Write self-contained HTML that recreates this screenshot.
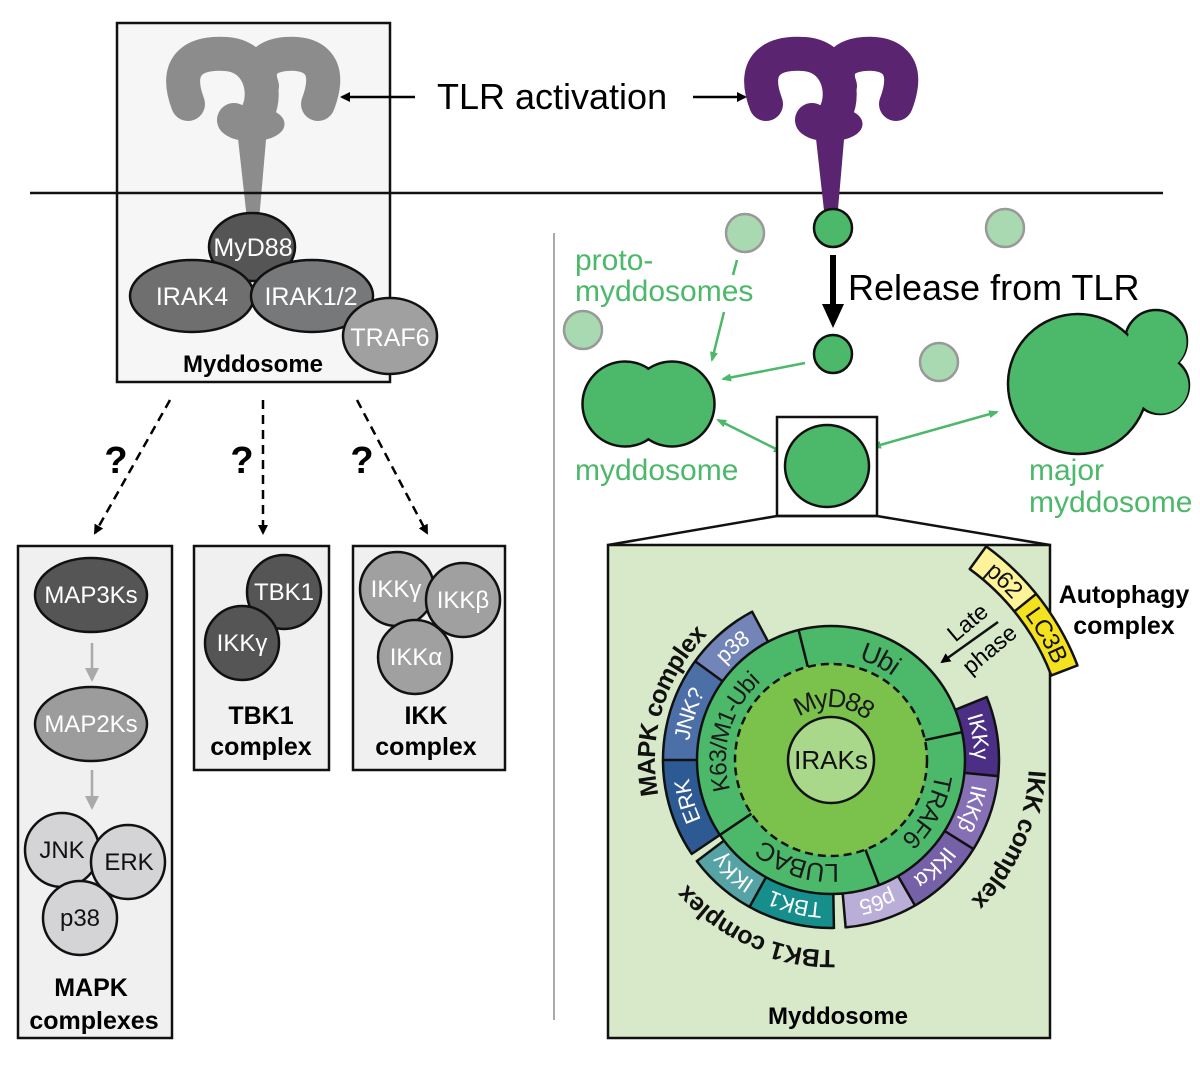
<!DOCTYPE html>
<html><head><meta charset="utf-8"><style>
html,body{margin:0;padding:0;background:#fff;overflow:hidden;width:1200px;height:1067px}
svg{display:block}
text{font-family:"Liberation Sans",Arial,sans-serif}
</style></head><body>
<svg width="1200" height="1067" viewBox="0 0 1200 1067" xmlns="http://www.w3.org/2000/svg">
<defs>
<marker id="ah" markerWidth="10" markerHeight="10" refX="8" refY="5" orient="auto" markerUnits="userSpaceOnUse"><path d="M0,0 L10,5 L0,10 z" fill="#000"/></marker>
<marker id="ahg" markerWidth="10" markerHeight="10" refX="8" refY="5" orient="auto" markerUnits="userSpaceOnUse"><path d="M0,1 L10,5 L0,9 z" fill="#4cb86a"/></marker>
<marker id="ahgs" markerWidth="10" markerHeight="10" refX="2" refY="5" orient="auto" markerUnits="userSpaceOnUse"><path d="M10,1 L0,5 L10,9 z" fill="#4cb86a"/></marker>
<marker id="ahgr" markerWidth="14" markerHeight="14" refX="12" refY="7" orient="auto" markerUnits="userSpaceOnUse"><path d="M0,0 L14,7 L0,14 z" fill="#aaa"/></marker>
<g id="tlr">
  <path d="M188,104 C172,62 198,52 226,54 C258,56 268,90 258,112 C252,124 242,126 234,120" fill="none" stroke-width="34" stroke-linecap="round"/>
  <path d="M318,104 C334,62 310,52 286,54 C262,56 256,70 262,86" fill="none" stroke-width="34" stroke-linecap="round"/>
  <ellipse cx="256" cy="124" rx="28" ry="16"/>
  <polygon points="238,134 266,134 259,215 247,215"/>
</g>
<path id="r62" d="M769,760 A62 62 0 1 1 893,760 A62 62 0 1 1 769,760"/>
<path id="r113" d="M718,760 A113 113 0 1 1 944,760 A113 113 0 1 1 718,760"/>
<path id="r151" d="M680,760 A151 151 0 1 1 982,760 A151 151 0 1 1 680,760"/>
<path id="r184" d="M647,760 A184 184 0 1 1 1015,760 A184 184 0 1 1 647,760"/>
<path id="r198" d="M633,760 A198 198 0 1 1 1029,760 A198 198 0 1 1 633,760"/>
<path id="r206" d="M625,760 A206 206 0 1 1 1037,760 A206 206 0 1 1 625,760"/>
<path id="r250" d="M581,760 A250 250 0 1 1 1081,760 A250 250 0 1 1 581,760"/>
</defs>

<rect x="117" y="23" width="273" height="359" fill="#f5f6f5" stroke="#111" stroke-width="2.5"/>
<g fill="#8c8c8c" stroke="#8c8c8c"><use href="#tlr"/></g>
<line x1="30" y1="193" x2="1163" y2="193" stroke="#111" stroke-width="2.5"/>
<g stroke="#111" stroke-width="2.5">
<ellipse cx="252" cy="247" rx="43" ry="34" fill="#555"/>
<ellipse cx="192" cy="296" rx="62" ry="36" fill="#6f6f70"/>
<ellipse cx="312" cy="296" rx="61" ry="36" fill="#77787a"/>
<ellipse cx="390" cy="336" rx="47" ry="38" fill="#a0a0a0"/>
</g>
<g fill="#fff" font-size="25" text-anchor="middle">
<text x="253" y="256">MyD88</text><text x="192" y="305">IRAK4</text><text x="311" y="305">IRAK1/2</text><text x="390" y="346">TRAF6</text>
</g>
<text x="253" y="372" font-size="24" font-weight="bold" text-anchor="middle">Myddosome</text>

<g fill="#5a2470" stroke="#5a2470" transform="translate(578,0)"><use href="#tlr"/></g>
<text x="437" y="109" font-size="36">TLR activation</text>
<line x1="415" y1="97" x2="342" y2="97" stroke="#000" stroke-width="2.5" marker-end="url(#ah)"/>
<line x1="693" y1="97" x2="745" y2="97" stroke="#000" stroke-width="2.5" marker-end="url(#ah)"/>

<g stroke="#000" stroke-width="2.5" stroke-dasharray="9,6" fill="none">
<line x1="170" y1="400" x2="95" y2="533" marker-end="url(#ah)"/>
<line x1="263" y1="400" x2="263" y2="533" marker-end="url(#ah)"/>
<line x1="357" y1="400" x2="427" y2="533" marker-end="url(#ah)"/>
</g>
<g font-size="38" font-weight="bold" text-anchor="middle"><text x="116" y="473">?</text><text x="242" y="473">?</text><text x="362" y="473">?</text></g>

<g fill="#f0f0f0" stroke="#111" stroke-width="2.5">
<rect x="18" y="546" width="154" height="492"/>
<rect x="194" y="546" width="135" height="224"/>
<rect x="353" y="546" width="152" height="224"/>
</g>
<g stroke="#111" stroke-width="2.5">
<ellipse cx="91" cy="595" rx="56" ry="37" fill="#555"/>
<ellipse cx="91" cy="724" rx="56" ry="37" fill="#9c9c9c"/>
<circle cx="62" cy="850" r="37" fill="#d4d4d6"/>
<circle cx="128" cy="862" r="37" fill="#d4d4d6"/>
<circle cx="80" cy="918" r="37" fill="#d4d4d6"/>
<circle cx="284" cy="592" r="37" fill="#555"/>
<circle cx="242" cy="643" r="37" fill="#555"/>
<circle cx="397" cy="589" r="37" fill="#a0a0a0"/>
<circle cx="463" cy="600" r="37" fill="#a0a0a0"/>
<circle cx="415" cy="657" r="37" fill="#a0a0a0"/>
</g>
<line x1="92" y1="643" x2="92" y2="680" stroke="#aaa" stroke-width="2.5" marker-end="url(#ahgr)"/>
<line x1="92" y1="770" x2="92" y2="808" stroke="#aaa" stroke-width="2.5" marker-end="url(#ahgr)"/>
<g font-size="24" text-anchor="middle">
<text x="91" y="603" fill="#fff">MAP3Ks</text><text x="91" y="732" fill="#fff">MAP2Ks</text>
<text x="62" y="858" fill="#111">JNK</text><text x="129" y="870" fill="#111">ERK</text><text x="80" y="926" fill="#111">p38</text>
<text x="284" y="600" fill="#fff">TBK1</text><text x="242" y="651" fill="#fff">IKKγ</text>
<text x="396" y="597" fill="#fff">IKKγ</text><text x="463" y="608" fill="#fff">IKKβ</text><text x="416" y="665" fill="#fff">IKKα</text>
</g>
<g font-size="25" font-weight="bold" text-anchor="middle">
<text x="91" y="996">MAPK</text><text x="94" y="1029">complexes</text>
<text x="261" y="724">TBK1</text><text x="261" y="755">complex</text>
<text x="426" y="724">IKK</text><text x="426" y="755">complex</text>
</g>

<line x1="554" y1="233" x2="554" y2="1020" stroke="#aaa" stroke-width="2"/>
<g fill="#a9d9b0" stroke="#999" stroke-width="2.5">
<circle cx="745" cy="233" r="19"/><circle cx="1005" cy="228" r="19"/><circle cx="583" cy="330" r="19"/><circle cx="939" cy="362" r="19"/>
</g>
<g fill="#4cb96a" stroke="#111" stroke-width="2.5">
<ellipse cx="833" cy="228" rx="19" ry="19"/>
<ellipse cx="833" cy="354" rx="19" ry="19"/>
</g>
<line x1="833" y1="255" x2="833" y2="305" stroke="#000" stroke-width="6"/>
<polygon points="822,304 844,304 833,328" fill="#000"/>
<text x="848" y="300" font-size="36">Release from TLR</text>
<g fill="#4cb86a" font-size="30"><text x="575" y="270">proto-</text><text x="575" y="301">myddosomes</text>
<text x="575" y="480">myddosome</text><text x="1029" y="480">major</text><text x="1029" y="512">myddosome</text></g>
<g stroke="#4cb86a" stroke-width="2.5" fill="none">
<line x1="737" y1="260" x2="733" y2="275"/>
<line x1="724" y1="312" x2="712" y2="360" marker-end="url(#ahg)"/>
<line x1="805" y1="363" x2="723" y2="379" marker-end="url(#ahg)"/>
<line x1="718" y1="420" x2="782" y2="452" marker-start="url(#ahgs)" marker-end="url(#ahg)"/>
<line x1="873" y1="447" x2="997" y2="412" marker-start="url(#ahgs)" marker-end="url(#ahg)"/>
</g>
<g>
<circle cx="625" cy="404" r="42.5" fill="#4cb96a" stroke="#111" stroke-width="2.5"/>
<circle cx="672" cy="404" r="42.5" fill="#4cb96a" stroke="#111" stroke-width="2.5"/>
<circle cx="625" cy="404" r="41" fill="#4cb96a"/>
</g>
<g>
<circle cx="1156" cy="341" r="31" fill="#4cb96a" stroke="#111" stroke-width="2.5"/>
<circle cx="1160" cy="385" r="29" fill="#4cb96a" stroke="#111" stroke-width="2.5"/>
<circle cx="1078" cy="384" r="70" fill="#4cb96a" stroke="#111" stroke-width="2.5"/>
<circle cx="1157" cy="342" r="29.5" fill="#4cb96a"/>
<circle cx="1161" cy="386" r="27.5" fill="#4cb96a"/>
<circle cx="1078" cy="384" r="68.5" fill="#4cb96a"/>
</g>
<rect x="777" y="417" width="100" height="99" fill="#fff" stroke="#111" stroke-width="2.5"/>
<ellipse cx="827" cy="466" rx="42" ry="41" fill="#4cb96a" stroke="#111" stroke-width="2.5"/>
<polyline points="608,545 777,516 877,516 1050,545" fill="none" stroke="#111" stroke-width="2.5"/>
<rect x="608" y="545" width="442" height="493" fill="#d7e9c9" stroke="#111" stroke-width="2.5"/>

<g transform="translate(831,760)" fill="none">
  <g stroke-width="34">
    <circle r="151" pathLength="360" stroke="#2e5a94" stroke-dasharray="34 400" transform="rotate(146)"/>
    <circle r="151" pathLength="360" stroke="#4d6fa8" stroke-dasharray="36 400" transform="rotate(180)"/>
    <circle r="151" pathLength="360" stroke="#7384b8" stroke-dasharray="26 400" transform="rotate(216)"/>
    <circle r="151" pathLength="360" stroke="#55a3a5" stroke-dasharray="24 400" transform="rotate(119)"/>
    <circle r="151" pathLength="360" stroke="#168f8c" stroke-dasharray="30 400" transform="rotate(89)"/>
    <circle r="151" pathLength="360" stroke="#b9aed8" stroke-dasharray="25 400" transform="rotate(60)"/>
    <circle r="151" pathLength="360" stroke="#7561a8" stroke-dasharray="28 400" transform="rotate(32)"/>
    <circle r="151" pathLength="360" stroke="#8570b5" stroke-dasharray="26.5 400" transform="rotate(5.5)"/>
    <circle r="151" pathLength="360" stroke="#4a2f85" stroke-dasharray="27.5 400" transform="rotate(-22)"/>
  </g>
  <g stroke-width="28">
    <circle r="250" pathLength="360" stroke="#fff39a" stroke-dasharray="15 400" transform="rotate(-54)"/>
    <circle r="250" pathLength="360" stroke="#f5e21e" stroke-dasharray="18 400" transform="rotate(-39)"/>
  </g>
  <g stroke="#111" stroke-width="2.5">
    <circle r="168" pathLength="360" stroke-dasharray="96 400" transform="rotate(146)"/>
    <circle r="168" pathLength="360" stroke-dasharray="54 400" transform="rotate(89)"/>
    <circle r="168" pathLength="360" stroke-dasharray="107 400" transform="rotate(-22)"/>
    <circle r="236" pathLength="360" stroke-dasharray="33 400" transform="rotate(-54)"/>
    <circle r="264" pathLength="360" stroke-dasharray="33 400" transform="rotate(-54)"/>
    <g>
      <line x1="133" x2="169" transform="rotate(146)"/><line x1="133" x2="169" transform="rotate(180)"/>
      <line x1="133" x2="169" transform="rotate(216)"/><line x1="133" x2="169" transform="rotate(242)"/>
      <line x1="133" x2="169" transform="rotate(143)"/><line x1="133" x2="169" transform="rotate(119)"/>
      <line x1="133" x2="169" transform="rotate(89)"/><line x1="133" x2="169" transform="rotate(85)"/>
      <line x1="133" x2="169" transform="rotate(60)"/><line x1="133" x2="169" transform="rotate(32)"/>
      <line x1="133" x2="169" transform="rotate(5.5)"/><line x1="133" x2="169" transform="rotate(-22)"/>
      <line x1="235" x2="265" transform="rotate(-54)"/><line x1="235" x2="265" transform="rotate(-39)"/>
      <line x1="235" x2="265" transform="rotate(-21)"/>
    </g>
  </g>
  <circle r="134" fill="#4cb96a" stroke="#111" stroke-width="2.5"/>
  <circle r="96" fill="#7ac24b" stroke="#111" stroke-width="2.5" stroke-dasharray="8,5"/>
  <g stroke="#111" stroke-width="2.5">
    <line x1="96" x2="134" transform="rotate(-104)"/><line x1="96" x2="134" transform="rotate(-12)"/>
    <line x1="96" x2="134" transform="rotate(69)"/><line x1="96" x2="134" transform="rotate(146)"/>
  </g>
  <circle r="43" fill="#a9d88a" stroke="#111" stroke-width="2.5"/>
</g>
<text x="831" y="769" font-size="26" text-anchor="middle" fill="#111">IRAKs</text>

<g font-size="25" text-anchor="middle" dominant-baseline="central" fill="#1a1a1a">
  <g transform="rotate(-87 831 760)"><text font-size="26"><textPath href="#r62" startOffset="50%">MyD88</textPath></text></g>
  <g transform="rotate(-64 831 760)"><text font-size="27"><textPath href="#r113" startOffset="50%">Ubi</textPath></text></g>
  <g transform="rotate(196 831 760)"><text font-size="24"><textPath href="#r113" startOffset="50%">K63/M1-Ubi</textPath></text></g>
  <g transform="rotate(28 831 760)"><text><textPath href="#r113" startOffset="50%">TRAF6</textPath></text></g>
  <g transform="rotate(108 831 760)"><text font-size="26"><textPath href="#r113" startOffset="50%">LUBAC</textPath></text></g>
  <g fill="#fff" font-size="22">
    <g transform="rotate(164 831 760)"><text><textPath href="#r151" startOffset="50%">ERK</textPath></text></g>
    <g transform="rotate(198 831 760)"><text><textPath href="#r151" startOffset="50%">JNK?</textPath></text></g>
    <g transform="rotate(229 831 760)"><text><textPath href="#r151" startOffset="50%">p38</textPath></text></g>
    <g transform="rotate(-9 831 760)"><text><textPath href="#r151" startOffset="50%">IKKγ</textPath></text></g>
    <g transform="rotate(19 831 760)"><text><textPath href="#r151" startOffset="50%">IKKβ</textPath></text></g>
    <g transform="rotate(46 831 760)"><text><textPath href="#r151" startOffset="50%">IKKα</textPath></text></g>
    <g transform="rotate(72 831 760)"><text><textPath href="#r151" startOffset="50%">p65</textPath></text></g>
    <g transform="rotate(104 831 760)"><text><textPath href="#r151" startOffset="50%">TBK1</textPath></text></g>
    <g transform="rotate(131 831 760)"><text><textPath href="#r151" startOffset="50%">IKKγ</textPath></text></g>
  </g>
  <g fill="#111" font-size="24">
    <g transform="rotate(-46 831 760)"><text><textPath href="#r250" startOffset="50%">p62</textPath></text></g>
    <g transform="rotate(-30 831 760)"><text><textPath href="#r250" startOffset="50%">LC3B</textPath></text></g>
  </g>
  <g fill="#111" font-size="25" font-weight="bold">
    <g transform="rotate(197 831 760)"><text><textPath href="#r184" startOffset="50%">MAPK complex</textPath></text></g>
    <g transform="rotate(24 831 760)"><text><textPath href="#r206" startOffset="50%">IKK complex</textPath></text></g>
    <g transform="rotate(114 831 760)"><text><textPath href="#r198" startOffset="50%">TBK1 complex</textPath></text></g>
  </g>
</g>
<line x1="998" y1="622" x2="942" y2="662" stroke="#111" stroke-width="2.5" marker-end="url(#ah)"/>
<text x="968" y="630" font-size="23" text-anchor="middle" transform="rotate(-40 968 623)">Late</text>
<text x="990" y="657" font-size="23" text-anchor="middle" transform="rotate(-40 990 650)">phase</text>
<g font-size="25" font-weight="bold" text-anchor="middle"><text x="1124" y="603">Autophagy</text><text x="1124" y="634">complex</text></g>
<text x="838" y="1024" font-size="24" font-weight="bold" text-anchor="middle">Myddosome</text>
</svg>
</body></html>
